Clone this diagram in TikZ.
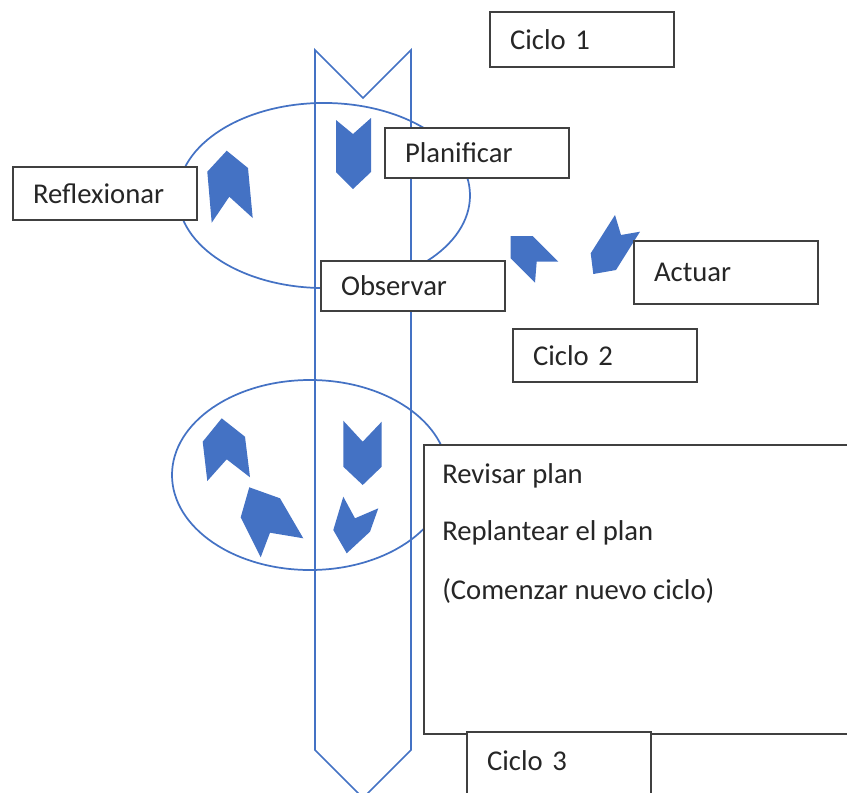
\documentclass[tikz,border=0pt]{standalone}
\usepackage{fontspec}
\setmainfont{Carlito}
\definecolor{cycleblue}{HTML}{4472C4}
\definecolor{boxgray}{HTML}{404040}
\tikzset{
  stage/.style={draw=boxgray,line width=1.6pt,fill=white,anchor=north west,
    inner xsep=15pt,inner ysep=0pt,text width=108pt,align=left,
    font=\fontsize{21.5}{26}\selectfont,text=black!85},
  chev/.style={fill=cycleblue},
  loopline/.style={draw=cycleblue,line width=1.3pt}
}
\begin{document}
\begin{tikzpicture}[x=0.75pt,y=-0.75pt]
  \useasboundingbox (0,0) rectangle (847,793);
  \clip (0,0) rectangle (847,793);
  % vertical band
  \draw[loopline] (315,50) -- (363,98) -- (411,50) -- (411,750)
     -- (363,798) -- (315,750) -- cycle;
  % the two loops
  \draw[loopline] (324,195.5) ellipse [x radius=109.5pt,y radius=69.4pt];
  \draw[loopline] (310,475) ellipse [x radius=103.5pt,y radius=71.25pt];
  % chevrons, cycle 1
  \fill[chev] (336,120) -- (353,134) -- (371,118) -- (371,172)
     -- (353,189) -- (336,172) -- cycle;
  \fill[chev] (226.7,150.7) -- (248,168) -- (252.7,218) -- (229.3,196.7)
     -- (211.7,222.7) -- (207.3,171.7) -- cycle;
  \fill[chev] (510.7,236) -- (532.7,236) -- (558.3,261.7) -- (536.7,261.7)
     -- (535,282.7) -- (510.7,258.3) -- cycle;
  \fill[chev] (615,215) -- (621,235) -- (640,231.7) -- (616,270)
     -- (593.3,274) -- (590.7,253.3) -- cycle;
  % chevrons, cycle 2
  \fill[chev] (221.7,418.3) -- (245,436.7) -- (250,477.3) -- (226.7,459.3)
     -- (207.3,481) -- (202.7,441.7) -- cycle;
  \fill[chev] (249.3,487.3) -- (280,498.3) -- (303.3,538.3) -- (270,532.7)
     -- (260.7,557.3) -- (240.7,517.3) -- cycle;
  \fill[chev] (343.3,420.7) -- (362.7,441.7) -- (381.7,421.7) -- (381.7,466.7)
     -- (362.7,485) -- (343.3,466.7) -- cycle;
  \fill[chev] (343.3,496.7) -- (355,518.3) -- (378.3,508.3) -- (370,531.7)
     -- (346.7,553.3) -- (333.3,530) -- cycle;
  % labels
  \node[stage,minimum height=41.25pt] (ciclo1) at (489,11) {Ciclo 1};
  \node[stage,minimum height=37.5pt] (planificar) at (384,127) {Planificar};
  \node[stage,minimum height=39.75pt] (reflexionar) at (12,166) {Reflexionar};
  \node[stage,minimum height=37.5pt] (observar) at (320,260) {Observar};
  \node[stage,minimum height=47.25pt] (actuar) at (633,240) {Actuar};
  \node[stage,minimum height=39.75pt] (ciclo2) at (512,328) {Ciclo 2};
  \node[stage,text width=292pt,minimum height=216.75pt] (revision) at (423,444) {};
  \node[font=\fontsize{21.5}{26}\selectfont,text=black!85,anchor=base west,inner sep=0pt]
     (revisar) at (442,483) {Revisar plan};
  \node[font=\fontsize{21.5}{26}\selectfont,text=black!85,anchor=base west,inner sep=0pt]
     (replantear) at (442,540) {Replantear el plan};
  \node[font=\fontsize{21.5}{26}\selectfont,text=black!85,anchor=base west,inner sep=0pt]
     (comenzar) at (442,599) {(Comenzar nuevo ciclo)};
  \node[stage,minimum height=49.5pt,text depth=7.5pt] (ciclo3) at (466,731) {Ciclo 3};
\end{tikzpicture}
\end{document}
